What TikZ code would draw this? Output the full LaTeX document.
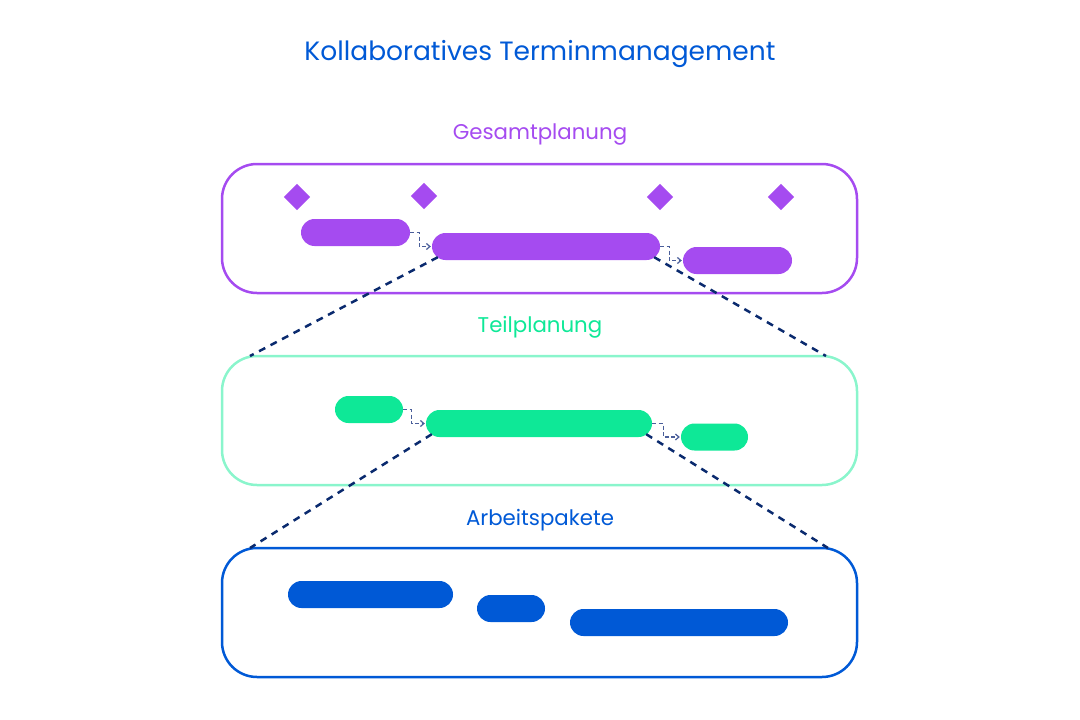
\documentclass[tikz,border=0pt]{standalone}
\usepackage{fontspec}
\setmainfont{Poppins}
\usetikzlibrary{arrows.meta,calc}
\definecolor{cpurple}{HTML}{A54BF0}
\definecolor{cgreen}{HTML}{0EE897}
\definecolor{cgreenl}{HTML}{8AF5CC}
\definecolor{cblue}{HTML}{0059D6}
\definecolor{cnavy}{HTML}{0A2A6E}
\definecolor{cdep}{HTML}{4A5E9A}
\tikzset{
  panel/.style={draw=#1, line width=2.5pt, rounded corners=35pt, minimum width=635pt, minimum height=129pt, inner sep=0pt},
  bar/.style={fill=#1, rounded corners=13.5pt, minimum height=27pt, inner sep=0pt},
  milestone/.style={fill=cpurple, minimum width=18.4pt, minimum height=18.4pt, inner sep=0pt, rotate=45},
  dep/.style={draw=cdep, line width=1.2pt, dash pattern=on 4pt off 2.5pt, -{Straight Barb[length=3.5pt,width=6pt]}, shorten >=1pt},
  zoomline/.style={draw=cnavy, line width=2.5pt, dash pattern=on 7pt off 6pt},
  lvl/.style={font=\fontsize{21.3}{25}\selectfont, text=#1},
}
\begin{document}
\begin{tikzpicture}[x=1pt,y=-1pt]
\useasboundingbox (0,0) rectangle (1080,720);
\node[text=cblue, font=\fontsize{26.5}{30}\selectfont] (title) at (540,54) {Kollaboratives Terminmanagement};

% Gesamtplanung
\node[lvl=cpurple] (lg) at (540,134) {Gesamtplanung};
\node[panel=cpurple] (pg) at (539.5,228.5) {};
\node[milestone] (m1) at (297,197) {};
\node[milestone] (m2) at (424,196) {};
\node[milestone] (m3) at (660,197) {};
\node[milestone] (m4) at (781,197) {};
\node[bar=cpurple, minimum width=109pt] (a1) at (355.5,232.5) {};
\node[bar=cpurple, minimum width=228pt] (a2) at (546,246.5) {};
\node[bar=cpurple, minimum width=109pt] (a3) at (737.5,260.5) {};
\draw[dep] (a1.east) -- ++(9,0) |- (a2.west);
\draw[dep] (a2.east) -- ++(9,0) |- (a3.west);

% Teilplanung
\node[lvl=cgreen] (lt) at (540,327) {Teilplanung};
\node[panel=cgreenl] (pt) at (539.5,420.5) {};
\node[bar=cgreen, minimum width=68pt] (g1) at (369,409.5) {};
\node[bar=cgreen, minimum width=226pt] (g2) at (539,423.5) {};
\node[bar=cgreen, minimum width=67pt] (g3) at (714.5,437) {};
\draw[dep] (g1.east) -- ++(8,0) |- (g2.west);
\draw[dep] (g2.east) -- ++(11,0) |- (g3.west);

% Arbeitspakete
\node[lvl=cblue] (la) at (540,520) {Arbeitspakete};
\node[panel=cblue] (pa) at (539.5,612.5) {};
\node[bar=cblue, minimum width=165pt] (b1) at (370.5,594.5) {};
\node[bar=cblue, minimum width=68pt] (b2) at (511,608.5) {};
\node[bar=cblue, minimum width=218pt] (b3) at (679,622.5) {};

% zoom lines
\coordinate (z1) at ($(a2.south west)+(6,-3)$);
\coordinate (z2) at ($(a2.south east)+(-6,-3)$);
\coordinate (z3) at (250,356);
\coordinate (z4) at (826,356);
\coordinate (z5) at ($(g2.south west)+(6,-3)$);
\coordinate (z6) at ($(g2.south east)+(-6,-3)$);
\coordinate (z7) at (250,548);
\coordinate (z8) at (828,548);
\draw[zoomline] (z1) -- (z3);
\draw[zoomline] (z2) -- (z4);
\draw[zoomline] (z5) -- (z7);
\draw[zoomline] (z6) -- (z8);
\end{tikzpicture}
\end{document}
